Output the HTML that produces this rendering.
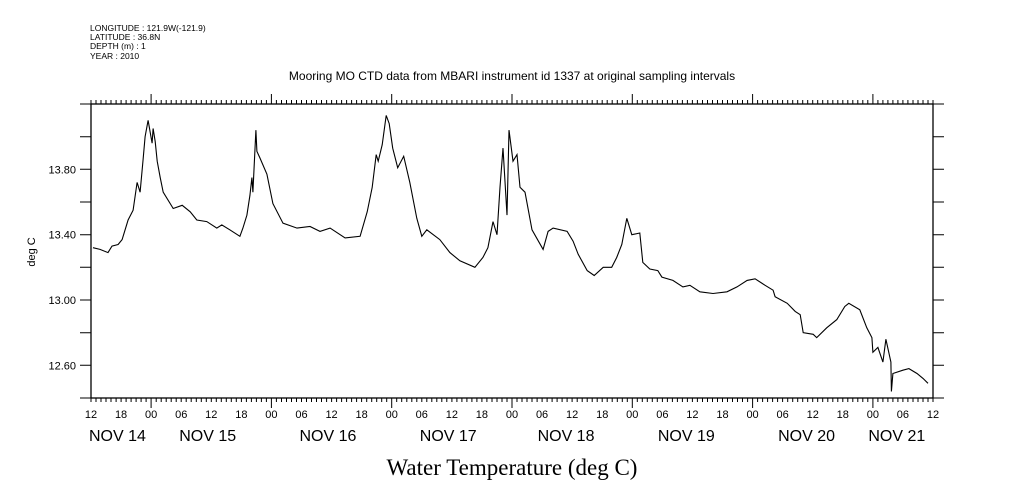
<!DOCTYPE html>
<html><head><meta charset="utf-8"><style>
body{margin:0;background:#fff;}
svg{display:block;}
text{font-family:"Liberation Sans",sans-serif;fill:#000;}
</style></head><body>
<svg id="c" width="1009" height="504" viewBox="0 0 1009 504">
<g font-size="8.5">
<text x="90" y="31">LONGITUDE : 121.9W(-121.9)</text>
<text x="90" y="40">LATITUDE : 36.8N</text>
<text x="90" y="49">DEPTH (m) : 1</text>
<text x="90" y="59">YEAR : 2010</text>
</g>
<text x="512" y="80" font-size="12" text-anchor="middle">Mooring MO CTD data from MBARI instrument id 1337 at original sampling intervals</text>
<text transform="translate(35,252) rotate(-90)" font-size="11" text-anchor="middle">deg C</text>
<text x="512" y="475" font-size="23" text-anchor="middle" style="font-family:'Liberation Serif',serif">Water Temperature (deg C)</text>
<g id="axes"></g>
<g id="plot"></g>
</svg>
<script>
const hours=[0.4,1.8,3.4,4.2,5.4,6.2,7.4,8.4,9.2,9.8,10.4,10.8,11.4,12.2,12.4,12.8,13.2,13.8,14.4,16.4,18.2,19.8,21.1,23.1,25.1,26.1,27.7,29.7,30.3,31.1,31.7,32.1,32.3,32.9,33.1,33.7,35.1,36.3,38.3,41.1,43.7,45.7,47.7,50.7,53.7,55.1,56.1,56.9,57.3,58.1,58.9,59.5,60.2,61.2,62.4,63.6,65.0,66.0,67.0,69.6,71.6,73.6,76.6,78.2,79.2,80.2,81.0,81.6,82.2,83.0,83.4,84.2,85.0,85.6,86.6,88.0,90.2,91.2,92.2,95.0,96.2,97.2,99.0,100.4,102.2,103.9,104.9,105.9,106.9,107.9,109.5,110.1,111.5,113.1,113.9,116.1,118.1,119.5,121.5,124.1,126.9,128.9,130.9,132.5,134.5,136.1,136.5,138.9,140.5,141.5,142.1,144.1,144.8,146.8,148.8,150.4,151.2,153.4,154.8,155.8,156.0,157.0,158.0,158.6,159.6,159.7,160.0,162.0,163.2,164.8,166.0,167.0];
const temps=[13.32,13.31,13.29,13.33,13.34,13.37,13.49,13.55,13.72,13.66,13.86,14.00,14.10,13.96,14.05,13.97,13.85,13.75,13.66,13.56,13.58,13.54,13.49,13.48,13.44,13.46,13.43,13.39,13.44,13.52,13.64,13.75,13.66,14.04,13.91,13.87,13.77,13.59,13.47,13.44,13.45,13.42,13.44,13.38,13.39,13.54,13.69,13.89,13.85,13.95,14.13,14.08,13.93,13.81,13.88,13.72,13.50,13.39,13.43,13.37,13.29,13.24,13.20,13.26,13.32,13.48,13.40,13.69,13.93,13.52,14.04,13.85,13.89,13.69,13.66,13.43,13.31,13.42,13.44,13.42,13.36,13.28,13.18,13.15,13.20,13.20,13.26,13.34,13.50,13.40,13.41,13.23,13.19,13.18,13.14,13.12,13.08,13.09,13.05,13.04,13.05,13.08,13.12,13.13,13.09,13.06,13.02,12.98,12.93,12.91,12.80,12.79,12.77,12.83,12.88,12.96,12.98,12.94,12.83,12.77,12.68,12.71,12.62,12.76,12.62,12.44,12.55,12.57,12.58,12.55,12.52,12.49];
const yTicks=[12.6,13.0,13.4,13.8];
const yTickLabels=["12.60","13.00","13.40","13.80"];
const hourLabels=["12","18","00","06","12","18","00","06","12","18","00","06","12","18","00","06","12","18","00","06","12","18","00","06","12","18","00","06","12"];
const dayLabels=["NOV 14","NOV 15","NOV 16","NOV 17","NOV 18","NOV 19","NOV 20","NOV 21"];
const dayLabelHours=[0,18,42,66,89.5,113.5,137.5,155.5];

const L=91,R=933,T=104,B=398,H0=0,H1=168,Y0=12.4,Y1=14.2;
const xs=h=>L+(h-H0)/(H1-H0)*(R-L);
const ys=v=>B-(v-Y0)/(Y1-Y0)*(B-T);
const NS="http://www.w3.org/2000/svg";
const ax=document.getElementById('axes'),pl=document.getElementById('plot');
function mk(tag,at,parent){const e=document.createElementNS(NS,tag);for(const k in at)e.setAttribute(k,at[k]);parent.appendChild(e);return e;}
const fr=mk('rect',{x:L,y:T,width:R-L,height:B-T,fill:'none',stroke:'#000','stroke-width':1.3},ax);


let d='';
for(let h=0;h<=168;h++){const x=xs(h).toFixed(1);const len=((h+12)%24===0)?10:4;d+=`M${x},${T}v${-len}M${x},${B}v${len}`;}
for(let v=12.4;v<=14.21;v+=0.2){const y=ys(v).toFixed(1);d+=`M${L},${y}h-11M${R},${y}h11`;}
const tk=mk('path',{d:d,stroke:'#000','stroke-width':1,fill:'none'},ax);


yTicks.forEach((v,i)=>{const t=mk('text',{x:76,y:ys(v)+4,'font-size':11,'text-anchor':'end'},ax);t.textContent=yTickLabels[i];

});
hourLabels.forEach((s,i)=>{const t=mk('text',{x:xs(i*6),y:418,'font-size':11,'text-anchor':'middle'},ax);t.textContent=s;

});
dayLabels.forEach((s,i)=>{const t=mk('text',{x:xs(dayLabelHours[i])-2,y:441,'font-size':16},ax);t.textContent=s;

});
const pts=hours.map((h,i)=>xs(h).toFixed(1)+','+ys(temps[i]).toFixed(1)).join(' ');
const ln=mk('polyline',{points:pts,fill:'none',stroke:'#000','stroke-width':1.1},pl);


</script>
</body></html>
